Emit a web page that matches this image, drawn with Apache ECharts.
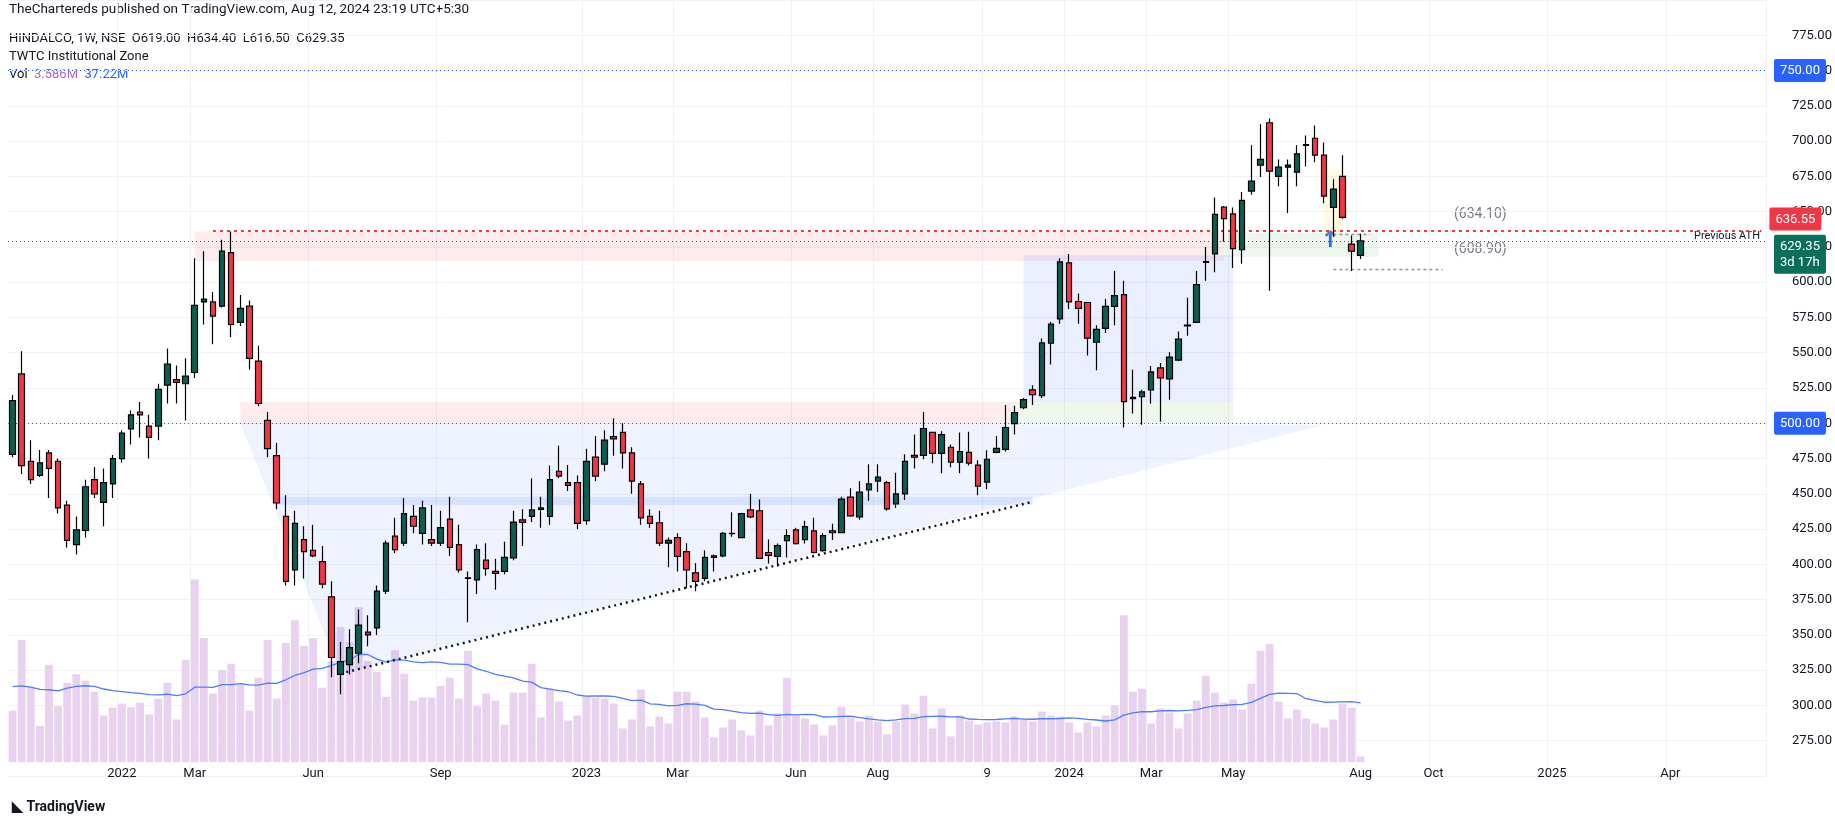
<!DOCTYPE html>
<html>
<head>
<meta charset="utf-8">
<script src="https://cdn.jsdelivr.net/npm/echarts@6/dist/echarts.min.js"></script>
<style>
html, body { margin: 0; padding: 0; background: #fff; }
#chart { width: 1835px; height: 825px; }
</style>
</head>
<body>
<div id="chart"></div>
<script>
// weekly candles HINDALCO, first week 2021-10-11
var firstWeek = '2021-10-11';
var totalWeeks = 193;

var opens = [478,535,473,463,479,473,442,414,424,460,444,457,475,496,508,498,498,527,531,528,
	536,586,586,583,621,571.5,583,544,502,477,434,396,417.5,410,402,377,322,329,337,352,
	355,381,420,415,434,422,417.5,415,432,414,390,389,403,395,395,404.6,431.6,434,439,434,
	466,458,458,431,476,471,490.6,493.5,479,457,434,429.5,415,419,409,394,390,406,406,421.7,
	419,438.6,438,408.4,405.6,416.8,424.5,417.5,423.8,409.8,423.8,422.4,447.7,433.7,452.7,459,458,442.8,450,477.3,
	477.3,493.5,478.7,483,472.4,479.4,470.3,458.3,479.4,481.5,499.8,511,523.7,519.5,556.7,574,613.7,586.3,585.6,557.5,
	567.3,582.8,591.2,517.5,518.8,523.7,539.2,531.4,544.8,569,571.5,614,620,653.3,648.4,623,664.6,683,713,675,
	681.5,678,697,702,690,653,675,627,619];
var highs = [520,551,488,481,481,475,445,434,460,469,468,477.5,495,509,515,506,528,553,541,546,
	617,622,593,630,636,591,587,555,508,486,449,438,427,428,413,388,345,354,368,364,
	385,417,433,447,442,445,442,438,448,428,395,414,415,404,416,438,439,461,448,470,
	484,470.5,463,482,491,495,503.5,500,483,459,439,438,419,422,415,401,410,407,423,437,
	436.5,450,446,417.7,414.7,424.8,426,431,433,422,428.8,448,454,459,471,471,459,465,478,492,
	508,494,494.4,485,493.5,494,473.8,480.8,491,513,512.4,518,527,560,571.7,617,620,592,586,569.4,
	588,608,601,538,523.7,540.6,542.7,550.4,565,589,608,625,660,654,653,664,697,712,716,687,
	687,697,704,711,699,673,690,633,634.4];
var lows = [476,464,457,462,447,436,412,407,419,447,427,447,472,485,490,475,488,514,514,502,
	532,570,556,582,561,569,538,512,476,439,385,385,390,405,383,320,308,322,330,342,
	350,379,408,413,422,414,413,413,406,394,359,379,392,382,393,403,413,430,426,428,
	461,452,425,428,459,466,477,468,450,428,426,413,398,395,383,381,388,395,405,419.6,
	419,432.7,404,400.6,398.5,404.9,414,414.7,407.7,409,417.2,422,433.7,431.6,445,451.3,438,440,445.6,468,
	474.5,471.7,464.6,468.8,464.6,470,449,453.4,478.7,480,492,510,513,518,541.7,570.5,581,570.5,548,537.5,
	564,569.4,497,507,499,513.9,501,516.7,544,562,571,601,607,628.6,610,613,662,674.5,594,668,
	649,668,682,685,656,632,645,608,616.5];
var closes = [516,470,460,472,468,440,417,424.5,455,450,458,475,493,506,506,490,524,542,529,533.5,
	583.5,588,576,622,570,581.5,546,514,482,443.5,388,429,409,406,386,334,331,341,357,350,
	381,415,410.5,436,427,440,415,426,412,396,390.5,410.5,397,393.6,405,430,429.7,438.6,440,460,
	462.5,456,429,473,462.5,488,489,479,459,433,429,415,417,405.6,396,388,405,405,422,421.9,
	436,433.7,404.2,406.3,413.3,420.3,414.7,426.7,408.4,420.3,422.4,446.3,434.4,451.3,457,461.8,439.3,449.9,473,476,
	496.3,478.7,492,472.4,480,471.7,455.5,474.5,482.2,497,507.5,516.7,520.2,557,570.3,614.4,586,581.4,560.3,566.6,
	582.8,590.5,515.3,518.3,522.2,536.4,532.1,546.9,559.6,569.6,598.2,614.6,648,645,623.8,658,671.6,687,678.7,681.5,
	683,691,697.5,690,661,666,646,622,629.35];
// volume, millions
var volumes = [32.4,76.8,47.4,22.7,61.2,35.2,49.9,55.3,51.2,44.3,
	29.3,34.3,36.8,34.5,37.4,30.0,39.9,49.9,26.8,64.3,
	114.8,78.0,43.1,58.0,61.8,48.7,32.4,53.0,76.8,39.9,
	74.9,89.2,73.0,78.0,46.8,63.6,84.9,75.5,97.3,63.6,
	56.8,41.2,70.3,55.5,38.7,40.6,40.6,48.0,53.0,39.9,
	69.9,35.2,43.1,38.7,23.7,43.7,43.7,61.8,28.1,46.2,
	38.1,26.2,29.3,41.8,40.6,39.9,36.8,21.2,26.8,45.6,
	22.5,28.7,24.3,44.3,44.3,38.1,28.1,15.6,21.8,26.8,
	20.0,16.8,32.4,23.1,30.6,53.0,29.3,27.5,23.7,16.8,
	23.1,34.9,28.1,25.6,29.3,25.6,17.5,25.6,36.2,30.6,
	41.8,21.2,33.7,16.2,29.3,26.2,23.7,25.0,25.6,25.0,
	28.7,26.8,25.6,31.8,29.3,28.7,25.0,18.7,25.0,22.5,
	29.3,35.6,92.4,44.3,46.2,24.3,33.7,31.2,21.2,30.6,
	38.7,54.3,43.7,37.4,39.3,33.1,49.3,69.9,74.3,38.1,
	27.5,33.1,27.5,24.3,21.8,26.8,36.8,34.3,3.586];
// volume average for the first weeks (history before the window)
var volMaStart = [47.5, 48.0, 47.2, 45.8, 45.5, 44.8];
// x axis labels: week index -> text
var tickWeeks = [12, 20, 33, 47, 63, 73, 86, 95, 107, 116, 125, 134, 148, 156, 169, 182];
var tickLabels = ['2022','Mar','Jun','Sep','2023','Mar','Jun','Aug','9','2024','Mar','May','Aug','Oct','2025','Apr'];

var UP = '#0b5e50', DOWN = '#f23645';

var chart = echarts.init(document.getElementById('chart'));

var weeks = [];
var d0 = new Date(firstWeek + 'T00:00:00Z');
for (var i = 0; i < totalWeeks; i++) {
	var d = new Date(d0.getTime() + i * 7 * 86400000);
	weeks.push(d.toISOString().slice(0, 10));
}

var candles = [];
var volData = [];
for (var i = 0; i < opens.length; i++) {
	candles.push([opens[i], closes[i], lows[i], highs[i]]);
	volData.push(volumes[i]);
}
// 20 week volume average (start values)
var volMa = [];
for (var i = 0; i < volumes.length; i++) {
	if (i < volMaStart.length) { volMa.push(volMaStart[i]); continue; }
	var s = 0, n = 0;
	for (var j = Math.max(0, i - 19); j <= i; j++) { s += volumes[j]; n++; }
	volMa.push(+(s / n).toFixed(2));
}

function isTick(idx) { return tickWeeks.indexOf(idx) >= 0; }

function rectSeries(x0, x1, y0, y1, color) {
	return {
		type: 'custom', silent: true, z: 1, data: [0],
		renderItem: function(params, api) {
			var a = api.coord([x0, y1]), b = api.coord([x1, y0]);
			return { type: 'rect', shape: { x: a[0], y: a[1], width: b[0] - a[0], height: b[1] - a[1] }, style: { fill: color } };
		}
	};
}
function lineSeries(x0, y0, x1, y1, color, width, dash) {
	return {
		type: 'custom', silent: true, z: 3, data: [0],
		renderItem: function(params, api) {
			var a = api.coord([x0, y0]), b = api.coord([x1, y1]);
			return { type: 'line', shape: { x1: a[0], y1: a[1], x2: b[0], y2: b[1] }, style: { stroke: color, lineWidth: width, lineDash: dash } };
		}
	};
}
function polySeries(pts, color) {
	return {
		type: 'custom', silent: true, z: 1, data: [0],
		renderItem: function(params, api) {
			return { type: 'polygon', shape: { points: pts.map(function(p) { return api.coord(p); }) }, style: { fill: color } };
		}
	};
}

function boxLabel(bg, text, va) {
	return { show: true, position: 'end', distance: 8, formatter: text, color: '#fff', backgroundColor: bg,
		padding: [4, 6, 3, 6], fontSize: 13, fontFamily: 'Roboto', lineHeight: 16, borderRadius: 2,
		verticalAlign: va || 'middle' };
}

var tealLabel = boxLabel('#0b6e5a', '629.35\n3d 17h', 'top');
tealLabel.offset = [0, -6];

var option = {
	animation: false,
	backgroundColor: '#fff',
	grid: { left: 8, top: -6, width: 1758, height: 782 },
	xAxis: {
		type: 'category', data: weeks, boundaryGap: true,
		axisLine: { show: false }, axisTick: { show: false },
		axisLabel: {
			interval: function(i) { return isTick(i); },
			formatter: function(v, i) { return tickLabels[tickWeeks.indexOf(i)] || ''; },
			margin: -9, color: '#131722', fontSize: 13, fontFamily: 'Roboto'
		},
		splitLine: { show: true, interval: function(i) { return isTick(i); }, lineStyle: { color: '#f0f2f5' } }
	},
	yAxis: [{
		type: 'value', position: 'right', min: 250, max: 800, interval: 25,
		axisLine: { show: false }, axisTick: { show: false },
		axisLabel: { margin: 26, color: '#131722', fontSize: 13, fontFamily: 'Roboto', showMinLabel: false, showMaxLabel: false,
			formatter: function(v) { return v.toFixed(2); } },
		splitLine: { lineStyle: { color: '#f0f2f5' } }
	}, {
		type: 'value', min: -8.7, max: 479, show: false, splitLine: { show: false }
	}],
	graphic: [
		{ type: 'text', left: 9, top: 3, style: { text: 'TheChartereds published on TradingView.com, Aug 12, 2024 23:19 UTC+5:30', fill: '#131722', font: '13.5px Roboto' } },
		{ type: 'text', left: 9, top: 32, style: { text: 'HINDALCO, 1W, NSE  O619.00  H634.40  L616.50  C629.35', fill: '#131722', font: '13px Roboto' } },
		{ type: 'text', left: 9, top: 50, style: { text: 'TWTC Institutional Zone', fill: '#131722', font: '13px Roboto' } },
		{ type: 'text', left: 9, top: 68, style: { rich: { a: { fill: '#131722', font: '13px Roboto' }, b: { fill: '#b35fc9', font: '13px Roboto' }, c: { fill: '#2962ff', font: '13px Roboto' } },
			text: '{a|Vol  }{b|3.586M}{a|  }{c|37.22M}' } },
		{ type: 'text', left: 1454, top: 207, style: { text: '(634.10)', fill: '#787b86', font: '14px Roboto' } },
		{ type: 'text', left: 1454, top: 242, style: { text: '(608.90)', fill: '#787b86', font: '14px Roboto' } },
		{ type: 'text', right: 75, top: 231, style: { text: 'Previous ATH', fill: '#131722', font: '11px Roboto' } },
		{ type: 'text', left: 1320, top: 230, style: { text: '↑', fill: '#2962ff', font: 'bold 24px DejaVu Sans' } },
		{ type: 'text', left: 12, top: 800, style: { text: '◣ TradingView', fill: '#131722', font: 'bold 14px Roboto' } }
	],
	series: [
		polySeries([[25, 500], [144, 499], [36, 322.6]], 'rgba(41,98,255,0.08)'),
		rectSeries(20, 133.2, 615, 636, 'rgba(242,54,69,0.1)'),
		rectSeries(133.2, 150.4, 618, 635, 'rgba(76,175,80,0.1)'),
		rectSeries(25, 109.6, 500, 515, 'rgba(242,54,69,0.1)'),
		rectSeries(109.6, 133.6, 500, 515, 'rgba(76,175,80,0.1)'),
		rectSeries(111, 133.6, 515, 619, 'rgba(41,98,255,0.1)'),
		rectSeries(28.5, 111.6, 442, 448, 'rgba(41,98,255,0.12)'),
		rectSeries(144, 145.6, 633, 681, 'rgba(255,235,59,0.15)'),
		lineSeries(36, 322.6, 111.8, 444.4, '#131722', 2.5, [2, 4]),
		lineSeries(144.6, 633.8, 149.3, 633.8, '#9598a1', 1.5, [3, 3]),
		lineSeries(144.6, 608.9, 156.6, 608.9, '#9598a1', 1.5, [3, 3]),
		{
			name: 'Vol', type: 'bar', yAxisIndex: 1, data: volData, barWidth: '86%', z: 0,
			itemStyle: { color: '#e9d2ef' }
		},
		{
			name: 'Vol MA', type: 'line', yAxisIndex: 1, data: volMa, symbol: 'none', z: 2,
			lineStyle: { color: '#4f7cff', width: 1.3 }
		},
		{
			name: 'HINDALCO', type: 'candlestick', data: candles, barWidth: 6, z: 5,
			itemStyle: { color: UP, color0: DOWN, borderColor: '#000', borderColor0: '#000', borderWidth: 1.2 },
			markLine: {
				symbol: 'none', silent: true,
				data: [
					{ yAxis: 750, lineStyle: { color: '#2962ff', type: [1, 3], width: 1.2 }, label: boxLabel('#2962ff', '750.00') },
					{ yAxis: 500, lineStyle: { color: '#2962ff', type: [1, 3], width: 1.2 }, label: boxLabel('#2962ff', '500.00') },
					{ yAxis: 629.35, lineStyle: { color: '#0b6e5a', type: [1, 3], width: 1.2 }, label: tealLabel },
					[{ coord: [22, 636.55], lineStyle: { color: '#f23645', type: [3, 4], width: 2 }, label: boxLabel('#f23645', '636.55', 'bottom') }, { coord: [192, 636.55] }]
				]
			}
		}
	]
};
chart.setOption(option);
</script>
</body>
</html>
